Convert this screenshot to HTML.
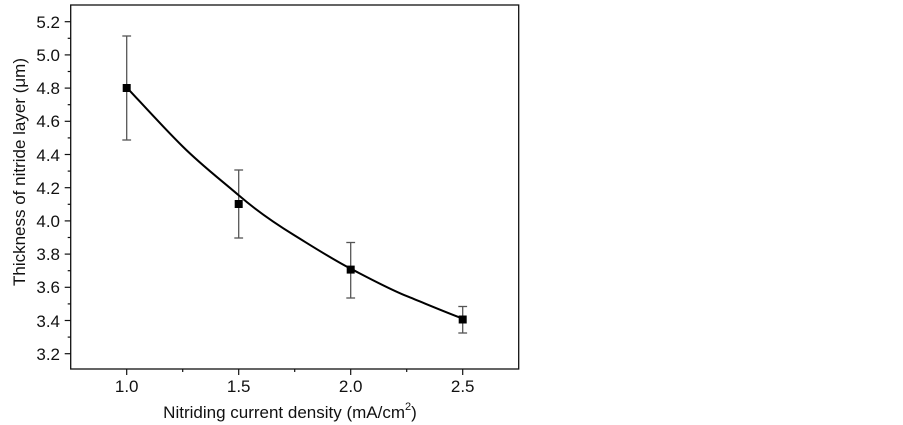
<!DOCTYPE html>
<html><head><style>body{margin:0;background:#fff}svg{display:block}text{font-family:"Liberation Sans",Arial,sans-serif;fill:#111}</style></head>
<body>
<svg width="903" height="425" viewBox="0 0 903 425">
<rect x="70.7" y="5" width="448" height="364" fill="none" stroke="#111" stroke-width="1.3"/>
<g stroke="#111" stroke-width="1.2">
<line x1="126.7" y1="369" x2="126.7" y2="375"/><line x1="238.7" y1="369" x2="238.7" y2="375"/><line x1="350.7" y1="369" x2="350.7" y2="375"/><line x1="462.7" y1="369" x2="462.7" y2="375"/>
<line x1="182.7" y1="369" x2="182.7" y2="372"/><line x1="294.7" y1="369" x2="294.7" y2="372"/><line x1="406.7" y1="369" x2="406.7" y2="372"/>
<line x1="64.7" y1="21.7" x2="70.7" y2="21.7"/><line x1="64.7" y1="54.9" x2="70.7" y2="54.9"/><line x1="64.7" y1="88.1" x2="70.7" y2="88.1"/><line x1="64.7" y1="121.3" x2="70.7" y2="121.3"/><line x1="64.7" y1="154.5" x2="70.7" y2="154.5"/><line x1="64.7" y1="187.7" x2="70.7" y2="187.7"/><line x1="64.7" y1="220.9" x2="70.7" y2="220.9"/><line x1="64.7" y1="254.1" x2="70.7" y2="254.1"/><line x1="64.7" y1="287.3" x2="70.7" y2="287.3"/><line x1="64.7" y1="320.5" x2="70.7" y2="320.5"/><line x1="64.7" y1="353.7" x2="70.7" y2="353.7"/>
<line x1="67.7" y1="38.3" x2="70.7" y2="38.3"/><line x1="67.7" y1="71.5" x2="70.7" y2="71.5"/><line x1="67.7" y1="104.7" x2="70.7" y2="104.7"/><line x1="67.7" y1="137.9" x2="70.7" y2="137.9"/><line x1="67.7" y1="171.1" x2="70.7" y2="171.1"/><line x1="67.7" y1="204.3" x2="70.7" y2="204.3"/><line x1="67.7" y1="237.5" x2="70.7" y2="237.5"/><line x1="67.7" y1="270.7" x2="70.7" y2="270.7"/><line x1="67.7" y1="303.9" x2="70.7" y2="303.9"/><line x1="67.7" y1="337.1" x2="70.7" y2="337.1"/>
</g>
<g font-size="17" text-anchor="end">
<text x="60" y="28">5.2</text><text x="60" y="61">5.0</text><text x="60" y="94">4.8</text><text x="60" y="127">4.6</text><text x="60" y="161">4.4</text><text x="60" y="194">4.2</text><text x="60" y="227">4.0</text><text x="60" y="260">3.8</text><text x="60" y="293">3.6</text><text x="60" y="327">3.4</text><text x="60" y="360">3.2</text>
</g>
<g font-size="17" text-anchor="middle">
<text x="126.7" y="392">1.0</text><text x="238.7" y="392">1.5</text><text x="350.7" y="392">2.0</text><text x="462.7" y="392">2.5</text>
<text x="290" y="418">Nitriding current density (mA/cm<tspan font-size="11" dy="-8">2</tspan><tspan dy="8">)</tspan></text>
<text transform="translate(25,172) rotate(-90)">Thickness of nitride layer (μm)</text>
</g>
<g stroke="#555" stroke-width="1.3">
<line x1="126.7" y1="36" x2="126.7" y2="140"/><line x1="122.3" y1="36" x2="131.1" y2="36"/><line x1="122.3" y1="140" x2="131.1" y2="140"/>
<line x1="238.7" y1="170" x2="238.7" y2="238"/><line x1="234.3" y1="170" x2="243.1" y2="170"/><line x1="234.3" y1="238" x2="243.1" y2="238"/>
<line x1="350.7" y1="242.5" x2="350.7" y2="298"/><line x1="346.3" y1="242.5" x2="355.1" y2="242.5"/><line x1="346.3" y1="298" x2="355.1" y2="298"/>
<line x1="462.7" y1="306.5" x2="462.7" y2="333"/><line x1="458.3" y1="306.5" x2="467.1" y2="306.5"/><line x1="458.3" y1="333" x2="467.1" y2="333"/>
</g>
<path d="M126.7,87.4 C145,107 163,127 182.7,146.5 S221,180 238.7,195.3 S276,224 294.7,235.5 S332,259 350.7,268.7 S389,289 406.7,296.1 S445,312 462.7,318.6" fill="none" stroke="#000" stroke-width="2"/>
<g fill="#000">
<rect x="122.7" y="84" width="8" height="8"/><rect x="234.7" y="200" width="8" height="8"/><rect x="346.7" y="265.6" width="8" height="8"/><rect x="458.7" y="315.5" width="8" height="8"/>
</g>
</svg>
</body></html>
